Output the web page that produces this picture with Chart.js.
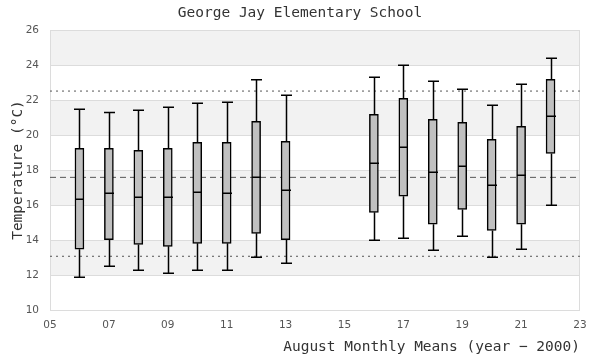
<!DOCTYPE html>
<html>
<head>
<meta charset="utf-8">
<script src="https://cdn.jsdelivr.net/npm/chart.js@4.4.1/dist/chart.umd.min.js"></script>
<style>
  html, body { margin: 0; padding: 0; background: #fff; }
  #wrap { width: 600px; height: 360px; }
</style>
</head>
<body>
<div id="wrap"><canvas id="chart"></canvas></div>
<script>
// August monthly means, George Jay Elementary School
const years = [6, 7, 8, 9, 10, 11, 12, 13, 16, 17, 18, 19, 20, 21, 22];
const whiskerLow  = [11.87, 12.50, 12.27, 12.10, 12.27, 12.27, 13.01, 12.67, 13.98, 14.10, 13.41, 14.21, 13.01, 13.47, 15.98];
const q1          = [13.47, 14.02, 13.75, 13.64, 13.81, 13.81, 14.38, 14.02, 15.58, 16.50, 14.90, 15.75, 14.55, 14.90, 18.95];
const median      = [16.33, 16.67, 16.44, 16.44, 16.73, 16.67, 17.58, 16.84, 18.38, 19.30, 17.87, 18.21, 17.13, 17.70, 21.07];
const q3          = [19.24, 19.24, 19.12, 19.24, 19.58, 19.58, 20.78, 19.64, 21.18, 22.10, 20.90, 20.73, 19.75, 20.50, 23.18];
const whiskerHigh = [21.47, 21.28, 21.41, 21.58, 21.81, 21.87, 23.16, 22.27, 23.30, 23.98, 23.07, 22.61, 21.70, 22.90, 24.38];

// reference lines: upper / lower limit (dotted) and overall mean (dashed)
const refUpper = 22.51;
const refMean = 17.58;
const refLower = 13.07;

const xRange = [5, 23];
const yTicks = [10, 12, 14, 16, 18, 20, 22, 24, 26];

const boxData = years.map((yr, i) => ({ x: yr, y: [q1[i], q3[i]] }));
const refLine = v => xRange.map(x => ({ x: x, y: v }));

// shaded bands between every other pair of grid lines + frame
const bandsPlugin = {
    id: 'bands',
    beforeDraw(chart) {
        const { ctx, chartArea: a, scales: { y } } = chart;
        ctx.save();
        ctx.fillStyle = '#f2f2f2';
        for (let i = 1; i + 1 < yTicks.length; i += 2) {
            const top = y.getPixelForValue(yTicks[i + 1]);
            const bot = y.getPixelForValue(yTicks[i]);
            ctx.fillRect(a.left, top, a.right - a.left, bot - top);
        }
        ctx.restore();
    },
    beforeDatasetsDraw(chart) {
        const { ctx, chartArea: a } = chart;
        ctx.save();
        ctx.strokeStyle = '#dcdcdc';
        ctx.lineWidth = 1;
        ctx.strokeRect(a.left + 0.5, a.top + 0.5, a.right - a.left - 1, a.bottom - a.top);
        ctx.restore();
    }
};

// whiskers, caps and median lines drawn with the chart's scales
const whiskerPlugin = {
    id: 'whiskers',
    afterDatasetsDraw(chart) {
        const { ctx, scales: { x, y } } = chart;
        const half = 4.5;
        const cap = 5.5;
        ctx.save();
        ctx.strokeStyle = '#000';
        ctx.lineWidth = 1.5;
        years.forEach((yr, i) => {
            const px = Math.round(x.getPixelForValue(yr)) + 0.5;
            const yMin = y.getPixelForValue(whiskerLow[i]);
            const yQ1 = y.getPixelForValue(q1[i]);
            const yMed = y.getPixelForValue(median[i]);
            const yQ3 = y.getPixelForValue(q3[i]);
            const yMax = y.getPixelForValue(whiskerHigh[i]);
            ctx.beginPath();
            ctx.moveTo(px, yQ3); ctx.lineTo(px, yMax);
            ctx.moveTo(px - cap, yMax); ctx.lineTo(px + cap, yMax);
            ctx.moveTo(px, yQ1); ctx.lineTo(px, yMin);
            ctx.moveTo(px - cap, yMin); ctx.lineTo(px + cap, yMin);
            ctx.moveTo(px - half, yMed); ctx.lineTo(px + half, yMed);
            ctx.stroke();
        });
        ctx.restore();
    }
};

const monoFont = "'DejaVu Sans Mono', 'Liberation Mono', monospace";
const tickFont = { family: "'DejaVu Sans', sans-serif", size: 10.5 };

new Chart(document.getElementById('chart'), {
    type: 'bar',
    data: {
        datasets: [
            {
                label: 'IQR',
                data: boxData,
                backgroundColor: '#c0c0c0',
                borderColor: '#000',
                borderWidth: 1.5,
                borderSkipped: false,
                barThickness: 9,
                grouped: false,
                order: 1
            },
            {
                type: 'line',
                label: 'upper',
                data: refLine(refUpper),
                borderColor: '#555',
                borderWidth: 1,
                borderDash: [2, 4],
                pointRadius: 0,
                order: 2
            },
            {
                type: 'line',
                label: 'mean',
                data: refLine(refMean),
                borderColor: '#555',
                borderWidth: 1,
                borderDash: [6, 4],
                pointRadius: 0,
                order: 2
            },
            {
                type: 'line',
                label: 'lower',
                data: refLine(refLower),
                borderColor: '#555',
                borderWidth: 1,
                borderDash: [2, 4],
                pointRadius: 0,
                order: 2
            }
        ]
    },
    options: {
        responsive: true,
        maintainAspectRatio: false,
        animation: false,
        layout: { padding: 0 },
        plugins: {
            legend: { display: false },
            tooltip: { enabled: false },
            title: {
                display: true,
                text: 'George Jay Elementary School',
                color: '#333',
                font: { family: monoFont, size: 14.5, weight: 'normal', lineHeight: 1.2 },
                padding: { top: 5, bottom: 7.6 }
            }
        },
        scales: {
            x: {
                type: 'linear',
                offset: false,
                min: xRange[0],
                max: xRange[1],
                grid: { display: false, drawTicks: false, offset: false },
                border: { display: false },
                ticks: {
                    stepSize: 2,
                    padding: 9,
                    color: '#555',
                    font: tickFont,
                    callback: v => String(v).padStart(2, '0')
                },
                title: {
                    display: true,
                    text: 'August Monthly Means (year \u2212 2000)',
                    align: 'end',
                    color: '#333',
                    font: { family: monoFont, size: 14.5, lineHeight: 1.2 },
                    padding: { top: 0, bottom: 4.3 }
                },
                afterFit: s => { s.height = 50; }
            },
            y: {
                type: 'linear',
                min: yTicks[0],
                max: yTicks[yTicks.length - 1],
                grid: { color: '#dcdcdc', lineWidth: 1, drawTicks: false },
                border: { display: false },
                ticks: {
                    stepSize: 2,
                    padding: 11,
                    color: '#555',
                    font: tickFont
                },
                title: {
                    display: true,
                    text: 'Temperature (\u00b0C)',
                    color: '#333',
                    font: { family: monoFont, size: 14.5, lineHeight: 1.2 },
                    padding: { top: 9.3, bottom: 0 }
                },
                afterFit: s => { s.width = 50; }
            },
            // empty right-hand margin so the title stays centred on the page
            yRight: {
                type: 'linear',
                position: 'right',
                grid: { display: false, drawTicks: false },
                border: { display: false },
                ticks: { display: false },
                afterFit: s => { s.width = 20; }
            }
        }
    },
    plugins: [bandsPlugin, whiskerPlugin]
});
</script>
</body>
</html>
